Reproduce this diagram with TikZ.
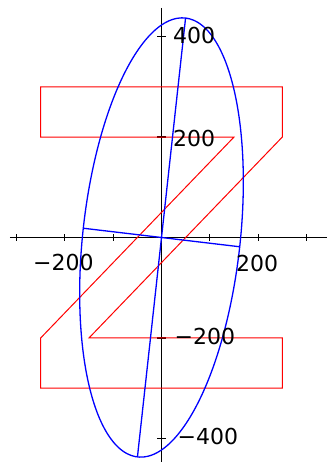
\documentclass[tikz,border=0pt]{standalone}
\usepackage{fontspec}
\setmainfont{DejaVu Sans}
\begin{document}
\begin{tikzpicture}[x=0.483pt, y=0.502pt,
  axis/.style={black, line width=1.5pt},
  tickmark/.style={black, line width=1.2pt},
  zshape/.style={red, line width=1pt, line join=miter},
  ell/.style={blue, line width=1.3pt},
  lab/.style={font=\fontsize{22}{26}\selectfont, inner sep=0pt, text=black}]
\useasboundingbox (-161.5pt,-224.5pt) rectangle (165.5pt,237.5pt);
% axes
\coordinate (xl) at (-151.5pt,0);
\coordinate (xr) at (165.5pt,0);
\coordinate (yt) at (0,229.5pt);
\coordinate (yb) at (0,-224.5pt);
\draw[axis] (xl) -- (xr);
\draw[axis] (yt) -- (yb);
\foreach \t in {-300,-200,-100,100,200,300}
  \draw[tickmark] (\t,-3.5pt) -- (\t,3.5pt);
\foreach \t in {-400,-200,200,400}
  \draw[tickmark] (-4.5pt,\t) -- (4.5pt,\t);
% Z shape
\draw[zshape] (-250,300) -- (250,300) -- (250,200) -- (-150,-200) -- (250,-200)
  -- (250,-300) -- (-250,-300) -- (-250,-200) -- (150,200) -- (-250,200) -- cycle;
% ellipse
\def\ea{440}\def\eb{163}\def\eth{83.5}
\draw[ell] plot[domain=0:360, samples=120, smooth]
  ({\ea*cos(\x)*cos(\eth) - \eb*sin(\x)*sin(\eth)},
   {\ea*cos(\x)*sin(\eth) + \eb*sin(\x)*cos(\eth)}) -- cycle;
\coordinate (mjt) at ({\ea*cos(\eth)},{\ea*sin(\eth)});
\coordinate (mjb) at ({-\ea*cos(\eth)},{-\ea*sin(\eth)});
\coordinate (mnl) at ({-\eb*sin(\eth)},{\eb*cos(\eth)});
\coordinate (mnr) at ({\eb*sin(\eth)},{-\eb*cos(\eth)});
\draw[ell] (mjt) -- (mjb);
\draw[ell] (mnl) -- (mnr);
% labels
\node[lab] (xm200) at (-203,-49) {−200};
\node[lab] (xp200) at (198,-52) {200};
\node[lab, anchor=west] (y400) at (11.5pt,402) {400};
\node[lab, anchor=west] (y200) at (11.5pt,198) {200};
\node[lab, anchor=west] (ym200) at (13pt,-198) {−200};
\node[lab, anchor=west] (ym400) at (16pt,-396) {−400};
\end{tikzpicture}
\end{document}
